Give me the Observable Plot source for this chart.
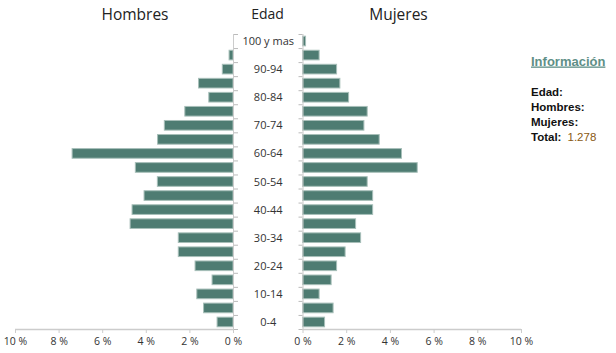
<!DOCTYPE html>
<html>
<head>
<meta charset="utf-8">
<script src="https://cdn.jsdelivr.net/npm/d3@7"></script>
<script src="https://cdn.jsdelivr.net/npm/@observablehq/plot@0.6"></script>
<style>
  html, body { margin: 0; padding: 0; background: #fff; }
  #wrap { position: relative; width: 616px; height: 353px; overflow: hidden; }
  #wrap > svg, #wrap > figure, #wrap > div { position: absolute; top: 0; margin: 0; }
</style>
</head>
<body>
<div id="wrap"></div>
<script>
// Age groups, bottom (youngest) to top (oldest)
const ages = ["0-4","5-9","10-14","15-19","20-24","25-29","30-34","35-39","40-44","45-49",
              "50-54","55-59","60-64","65-69","70-74","75-79","80-84","85-89","90-94","95-99","100 y mas"];
// Percent of total population
const hombres = [0.73,1.35,1.66,0.96,1.74,2.51,2.51,4.72,4.63,4.08,
                 3.47,4.48,7.38,3.46,3.15,2.21,1.11,1.58,0.49,0.18,0];
const mujeres = [1.01,1.40,0.76,1.31,1.56,1.95,2.66,2.43,3.21,3.21,
                 2.96,5.25,4.53,3.51,2.81,2.96,2.11,1.71,1.56,0.76,0.14];
const xTicks = [0,2,4,6,8,10];
const labeledAges = ["0-4","10-14","20-24","30-34","40-44","50-54","60-64","70-74","80-84","90-94","100 y mas"];
const titles = {left: "Hombres", middle: "Edad", right: "Mujeres"};
const info = {heading: "Información", rows: ["Edad:", "Hombres:", "Mujeres:"], totalLabel: "Total:", total: "1.278"};

const barFill = "#4e7c72";
const barStroke = "#a7bfb9";
const axisGray = "#cccccc";
const tickGray = "#bbbbbb";
const textColor = "#333333";
const font = "'Open Sans', 'Noto Sans', sans-serif";

const rows = ages.map((a, i) => ({age: a, i, h: hombres[i], m: mujeres[i]}));
const boundaries = d3.range(ages.length + 1);
const labelPos = labeledAges.map(a => ages.indexOf(a) + 0.5);

function pyramid(side) {
  const left = side === "left";
  const value = left ? "h" : "m";
  const marks = [
    Plot.rectX(rows, {
      x1: 0, x2: value, y1: "i", y2: d => d.i + 1,
      insetTop: 2.2, insetBottom: 2.2,
      fill: barFill, stroke: barStroke, strokeWidth: 1
    }),
    Plot.ruleY([0], {stroke: axisGray, strokeWidth: 1.5}),
    Plot.ruleX([0], {stroke: axisGray}),
    Plot.axisX({ticks: xTicks, tickSize: 4, text: null, stroke: axisGray, label: null}),
    Plot.axisX({ticks: xTicks, tickSize: 4, tickPadding: 4, tickFormat: d => d + " %", fill: textColor, stroke: "none", fontSize: 10.5, label: null}),
    Plot.axisY({ticks: boundaries, anchor: left ? "right" : "left", tickSize: 4, text: null, stroke: tickGray, label: null})
  ];
  if (left) {
    marks.push(Plot.axisY({
      ticks: labelPos, anchor: "right", tickSize: 0, tickPadding: 0, label: null,
      tickFormat: v => ages[Math.round(v - 0.5)], textAnchor: "middle", dx: 34.7,
      fill: textColor, fontSize: 11
    }));
  }
  return Plot.plot({
    width: left ? 302 : 303,
    height: 353,
    marginLeft: left ? 15 : 69.5,
    marginRight: left ? 69 : 15,
    marginTop: 34,
    marginBottom: 24,
    x: {domain: [0, 10], reverse: left, label: null},
    y: {domain: [0, ages.length], label: null},
    style: {fontFamily: font, fontSize: "11px", color: textColor, overflow: "visible", background: "transparent"},
    marks
  });
}

const wrap = document.getElementById("wrap");
const l = pyramid("left");
l.style.left = "0px";
wrap.appendChild(l);
const r = pyramid("right");
r.style.left = "233px";
wrap.appendChild(r);

// Text overlay (titles + info panel)
const ns = "http://www.w3.org/2000/svg";
const ov = document.createElementNS(ns, "svg");
ov.setAttribute("width", 616);
ov.setAttribute("height", 353);
ov.style.left = "0px";
ov.style.pointerEvents = "none";
function txt(x, y, s, attrs) {
  const t = document.createElementNS(ns, "text");
  t.setAttribute("x", x); t.setAttribute("y", y);
  for (const k in attrs) t.setAttribute(k, attrs[k]);
  t.textContent = s;
  ov.appendChild(t);
  return t;
}
txt(135, 20, titles.left, {"text-anchor": "middle", "font-family": font, "font-size": 15.5, fill: "#222"});
txt(267.5, 18.5, titles.middle, {"text-anchor": "middle", "font-family": font, "font-size": 14, fill: "#222"});
txt(398.5, 20, titles.right, {"text-anchor": "middle", "font-family": font, "font-size": 15.5, fill: "#222"});
const infoFont = "'Liberation Sans', Arial, sans-serif";
txt(531, 65.5, info.heading, {"font-family": infoFont, "font-size": 13, "font-weight": "bold", fill: "#5f8f87", "text-decoration": "underline"});
info.rows.forEach((s, k) => txt(531, 96 + k * 14.8, s, {"font-family": infoFont, "font-size": 11.5, "font-weight": "bold", fill: "#111"}));
const tot = txt(531, 140.5, "", {"font-family": infoFont, "font-size": 11.5, fill: "#111"});
const t1 = document.createElementNS(ns, "tspan"); t1.setAttribute("font-weight", "bold"); t1.textContent = info.totalLabel; tot.appendChild(t1);
const t2 = document.createElementNS(ns, "tspan"); t2.setAttribute("x", 567.5); t2.setAttribute("fill", "#8a5a14"); t2.textContent = info.total; tot.appendChild(t2);
wrap.appendChild(ov);
</script>
</body>
</html>
